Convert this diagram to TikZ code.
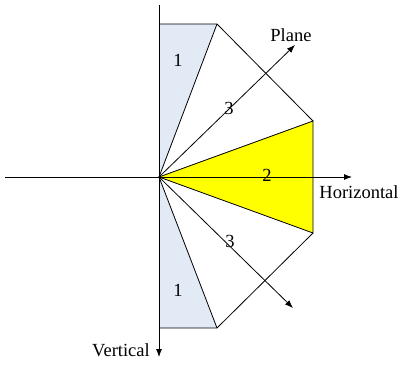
\documentclass[tikz,border=0pt]{standalone}
\usepackage{fontspec}
\setmainfont{Liberation Serif}
\usetikzlibrary{arrows.meta}
\definecolor{sidefill}{RGB}{226,234,246}
\definecolor{midfill}{RGB}{255,255,0}
\tikzset{
    axis/.style={
        line width=0.8pt,
        -{Latex[length=8pt,width=6pt]},
    },
    edge/.style={
        line width=0.8pt,
    },
    tag/.style={
        font=\fontsize{18.5}{20}\selectfont,
        inner sep=0,
    },
}

\begin{document}
\begin{tikzpicture}[x=1pt,y=-1pt]
    \useasboundingbox (0,0) rectangle (399,365);

    % corner points
    \coordinate (O)  at (159,177);
    \coordinate (tl) at (159,24);
    \coordinate (tr) at (217,24);
    \coordinate (rt) at (313,121);
    \coordinate (rb) at (313,233);
    \coordinate (br) at (217,328);
    \coordinate (bl) at (159,328);

    % axis ends
    \coordinate (north) at (159,5);
    \coordinate (south) at (159,357);
    \coordinate (west)  at (5,177);
    \coordinate (east)  at (352,177);
    \coordinate (up)    at (295,45);
    \coordinate (down)  at (293,308);

    % regions
    \fill[sidefill] (O) -- (tl) -- (tr) -- cycle;
    \fill[sidefill] (O) -- (bl) -- (br) -- cycle;
    \filldraw[edge, fill=midfill] (O) -- (rt) -- (rb) -- cycle;
    \draw[edge] (tl) -- (tr) -- (rt);
    \draw[edge] (rb) -- (br) -- (bl);
    \foreach \p in {tr,br} {
        \draw[edge] (O) -- (\p);
    }

    % axes
    \draw[axis] (north) -- (south);
    \draw[axis] (west) -- (east);
    \draw[axis] (O) -- (up);
    \draw[axis] (O) -- (down);

    % labels
    \node[tag] (one top) at (178,60) {1};
    \node[tag] (one bot) at (178,290) {1};
    \node[tag] (three top) at (229,108) {3};
    \node[tag] (three bot) at (230,241) {3};
    \node[tag] (two) at (267,175) {2};
    \node[tag] (plane) at (291,35) {Plane};
    \node[tag] (horizontal) at (359,192) {Horizontal};
    \node[tag] (vertical) at (121,350) {Vertical};

\end{tikzpicture}
\end{document}
